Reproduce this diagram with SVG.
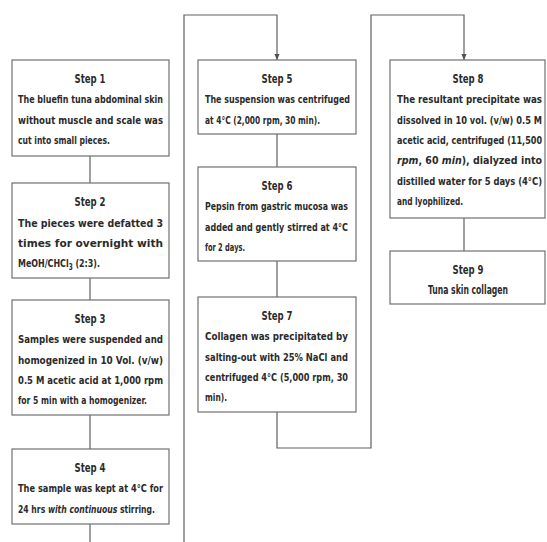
<svg xmlns="http://www.w3.org/2000/svg" width="547" height="542" viewBox="0 0 547 542">
<style>
.box{fill:#fff;stroke:#707070;stroke-width:1.2}
.ln{fill:none;stroke:#606060;stroke-width:1.2}
text{font-family:"Liberation Sans Narrow","DejaVu Sans",sans-serif;font-stretch:condensed;font-weight:bold;font-size:11px;fill:#2b2b2b}
.h{text-anchor:middle;font-size:11.5px}
.i{font-style:italic}
</style>
<defs>
<marker id="ah" markerWidth="6" markerHeight="7" refX="7" refY="3" orient="auto" markerUnits="userSpaceOnUse" viewBox="0 0 7 6">
<path d="M0,0 L7,3 L0,6 Z" fill="#505050"/>
</marker>
</defs>
<rect width="547" height="542" fill="#fff"/>
<g id="connectors">
<line class="ln" x1="90" y1="156" x2="90" y2="183"/>
<line class="ln" x1="90" y1="278" x2="90" y2="300"/>
<line class="ln" x1="90" y1="415" x2="90" y2="449"/>
<line class="ln" x1="90" y1="524" x2="90" y2="542"/>
<line class="ln" x1="277" y1="134" x2="277" y2="167"/>
<line class="ln" x1="277" y1="261" x2="277" y2="297"/>
<line class="ln" x1="464" y1="218" x2="464" y2="251"/>
<path class="ln" d="M184,542 V15 H277 V60" marker-end="url(#ah)"/>
<path class="ln" d="M277,412 V448 H371 V15 H464 V60" marker-end="url(#ah)"/>
</g>
<g id="step1">
<rect class="box" x="12" y="60" width="157" height="96"/>
<text class="h" x="90" y="83" textLength="31" lengthAdjust="spacingAndGlyphs">Step 1</text>
<text x="18" y="103" textLength="145" lengthAdjust="spacingAndGlyphs">The bluefin tuna abdominal skin</text>
<text x="18" y="124" textLength="145" lengthAdjust="spacingAndGlyphs">without muscle and scale was</text>
<text x="18" y="144" textLength="92" lengthAdjust="spacingAndGlyphs">cut into small pieces.</text>
</g>
<g id="step2">
<rect class="box" x="12" y="183" width="157" height="95"/>
<text class="h" x="90" y="206" textLength="31" lengthAdjust="spacingAndGlyphs">Step 2</text>
<text x="18" y="227" textLength="145" lengthAdjust="spacingAndGlyphs">The pieces were defatted 3</text>
<text x="18" y="247" textLength="145" lengthAdjust="spacingAndGlyphs">times for overnight with</text>
<text x="18" y="267" textLength="82" lengthAdjust="spacingAndGlyphs">MeOH/CHCl<tspan font-size="8" dy="3">3</tspan><tspan dy="-3"> (2:3).</tspan></text>
</g>
<g id="step3">
<rect class="box" x="12" y="300" width="157" height="115"/>
<text class="h" x="90" y="323" textLength="31" lengthAdjust="spacingAndGlyphs">Step 3</text>
<text x="18" y="343" textLength="145" lengthAdjust="spacingAndGlyphs">Samples were suspended and</text>
<text x="18" y="364" textLength="145" lengthAdjust="spacingAndGlyphs">homogenized in 10 Vol. (v/w)</text>
<text x="18" y="384" textLength="145" lengthAdjust="spacingAndGlyphs">0.5 M acetic acid at 1,000 rpm</text>
<text x="18" y="404" textLength="129" lengthAdjust="spacingAndGlyphs">for 5 min with a homogenizer.</text>
</g>
<g id="step4">
<rect class="box" x="12" y="449" width="157" height="75"/>
<text class="h" x="90" y="472" textLength="31" lengthAdjust="spacingAndGlyphs">Step 4</text>
<text x="18" y="492" textLength="145" lengthAdjust="spacingAndGlyphs">The sample was kept at 4°C for</text>
<text x="18" y="513" textLength="137" lengthAdjust="spacingAndGlyphs">24 hrs <tspan class="i">with continuous</tspan> stirring.</text>
</g>
<g id="step5">
<rect class="box" x="198" y="60" width="158" height="74"/>
<text class="h" x="277" y="83" textLength="31" lengthAdjust="spacingAndGlyphs">Step 5</text>
<text x="205" y="103" textLength="145" lengthAdjust="spacingAndGlyphs">The suspension was centrifuged</text>
<text x="205" y="124" textLength="115" lengthAdjust="spacingAndGlyphs">at 4°C (2,000 rpm, 30 min).</text>
</g>
<g id="step6">
<rect class="box" x="198" y="167" width="158" height="94"/>
<text class="h" x="277" y="190" textLength="31" lengthAdjust="spacingAndGlyphs">Step 6</text>
<text x="205" y="210" textLength="143" lengthAdjust="spacingAndGlyphs">Pepsin from gastric mucosa was</text>
<text x="205" y="231" textLength="143" lengthAdjust="spacingAndGlyphs">added and gently stirred at 4°C</text>
<text x="205" y="251" textLength="40" lengthAdjust="spacingAndGlyphs">for 2 days.</text>
</g>
<g id="step7">
<rect class="box" x="198" y="297" width="158" height="115"/>
<text class="h" x="277" y="320" textLength="31" lengthAdjust="spacingAndGlyphs">Step 7</text>
<text x="205" y="340" textLength="143" lengthAdjust="spacingAndGlyphs">Collagen was precipitated by</text>
<text x="205" y="361" textLength="143" lengthAdjust="spacingAndGlyphs">salting-out with 25% NaCl and</text>
<text x="205" y="381" textLength="143" lengthAdjust="spacingAndGlyphs">centrifuged 4°C (5,000 rpm, 30</text>
<text x="205" y="401" textLength="22" lengthAdjust="spacingAndGlyphs">min).</text>
</g>
<g id="step8">
<rect class="box" x="390" y="60" width="155" height="158"/>
<text class="h" x="468" y="83" textLength="31" lengthAdjust="spacingAndGlyphs">Step 8</text>
<text x="397" y="103" textLength="145" lengthAdjust="spacingAndGlyphs">The resultant precipitate was</text>
<text x="397" y="124" textLength="145" lengthAdjust="spacingAndGlyphs">dissolved in 10 vol. (v/w) 0.5 M</text>
<text x="397" y="144" textLength="145" lengthAdjust="spacingAndGlyphs">acetic acid, centrifuged (11,500</text>
<text x="397" y="164" textLength="145" lengthAdjust="spacingAndGlyphs"><tspan class="i">rpm</tspan>,   60   <tspan class="i">min</tspan>),   dialyzed   into</text>
<text x="397" y="185" textLength="145" lengthAdjust="spacingAndGlyphs">distilled water for 5 days (4°C)</text>
<text x="397" y="205" textLength="66" lengthAdjust="spacingAndGlyphs">and lyophilized.</text>
</g>
<g id="step9">
<rect class="box" x="390" y="251" width="155" height="53"/>
<text class="h" x="468" y="274" textLength="31" lengthAdjust="spacingAndGlyphs">Step 9</text>
<text class="h" x="468" y="294" textLength="80" lengthAdjust="spacingAndGlyphs">Tuna skin collagen</text>
</g>
</svg>
